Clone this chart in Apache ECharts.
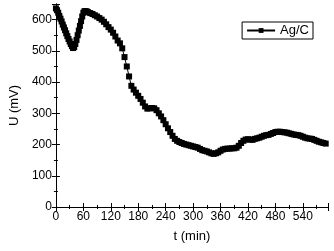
<!DOCTYPE html>
<html><head><meta charset="utf-8">
<script src="https://cdn.jsdelivr.net/npm/echarts@6/dist/echarts.min.js"></script>
<style>html,body{margin:0;padding:0;background:#fff}#c{width:334px;height:251px}</style>
</head><body><div id="c"></div>
<script>
const times = [0,2.5,5,7.5,10,12.5,15,17.5,20,22.5,25,27.5,30,32.5,35,37.5,40,42.5,45,47.5,50,52.5,55,57.5,60,62.5,65,67.5,70,75,80,85,90,95,100,105,110,115,120,125,130,135,140,145,150,155,160,165,170,175,180,185,190,195,200,205,210,215,220,225,230,235,240,245,250,255,260,265,270,275,280,285,290,295,300,305,310,315,320,325,330,335,340,345,350,355,360,365,370,375,380,385,390,395,400,405,410,415,420,425,430,435,440,445,450,455,460,465,470,475,480,485,490,495,500,505,510,515,520,525,530,535,540,545,550,555,560,565,570,575,580,585,590];
const voltage = [636,630,622,612,603,594,584,575,566,556,547,538,530,522,515,509,512,522,535,550,565,580,595,610,622,627,627,626,624,621,618,614,610,605,600,593,585,576,568,558,546,533,524,508,480,450,418,388,376,366,356,346,334,322,315,316,317,316,310,300,290,278,265,252,240,228,218,212,208,205,202,200,198,196,194,192,190,186,182,180,178,175,172,170,172,175,180,184,186,187,187,188,188,190,196,205,212,216,217,216,215,218,220,222,225,228,230,231,234,237,240,241,241,240,239,238,236,234,232,231,230,228,225,222,220,219,218,215,212,209,207,205,203];
const seriesName = 'Ag/C';
const xTicks = [0,60,120,180,240,300,360,420,480,540];
const yTicks = [0,100,200,300,400,500,600];

const font = 'Liberation Sans, Arial, sans-serif';
const chart = echarts.init(document.getElementById('c'));
const axisCommon = {
  axisLine:{show:true,lineStyle:{color:'#000',width:1}},
  axisTick:{show:true,inside:true,length:4,lineStyle:{color:'#000'}},
  minorTick:{show:true,splitNumber:2,length:2,lineStyle:{color:'#000'}},
  splitLine:{show:false}
};
chart.setOption({
  animation:false,
  grid:{left:52,right:6,top:4,bottom:44,containLabel:false},
  legend:{
    data:[seriesName],right:21,top:22,orient:'horizontal',
    itemWidth:28,itemHeight:6,itemGap:4,padding:[2,4,2,4],
    borderColor:'#000',borderWidth:1,borderRadius:0,
    textStyle:{fontFamily:font,fontSize:13,color:'#000'}
  },
  xAxis:[
    Object.assign({type:'value',min:0,max:595,interval:60,position:'bottom',
      name:'t (min)',nameLocation:'middle',nameGap:23,
      nameTextStyle:{fontFamily:font,fontSize:13,color:'#000'},
      axisLabel:{showMaxLabel:false,fontFamily:font,fontSize:12,color:'#000',margin:4,
        formatter:v=>xTicks.includes(v)?String(v):''}},axisCommon),
    Object.assign({type:'value',min:0,max:595,interval:60,position:'top',
      axisLabel:{show:false}},axisCommon)
  ],
  yAxis:[
    Object.assign({type:'value',min:0,max:650,interval:100,position:'left',
      name:'U (mV)',nameLocation:'middle',nameGap:33,
      nameTextStyle:{fontFamily:font,fontSize:13,color:'#000'},
      axisLabel:{showMaxLabel:false,fontFamily:font,fontSize:12,color:'#000',margin:4,
        formatter:v=>yTicks.includes(v)?String(v):''}},axisCommon),
    Object.assign({type:'value',min:0,max:650,interval:100,position:'right',
      axisLabel:{show:false}},axisCommon)
  ],
  series:[{
    name:seriesName,type:'line',
    data:times.map((t,i)=>[t,voltage[i]]),
    symbol:'rect',symbolSize:6,showAllSymbol:true,
    lineStyle:{color:'#000',width:1},
    itemStyle:{color:'#000'}
  }]
});
</script></body></html>
